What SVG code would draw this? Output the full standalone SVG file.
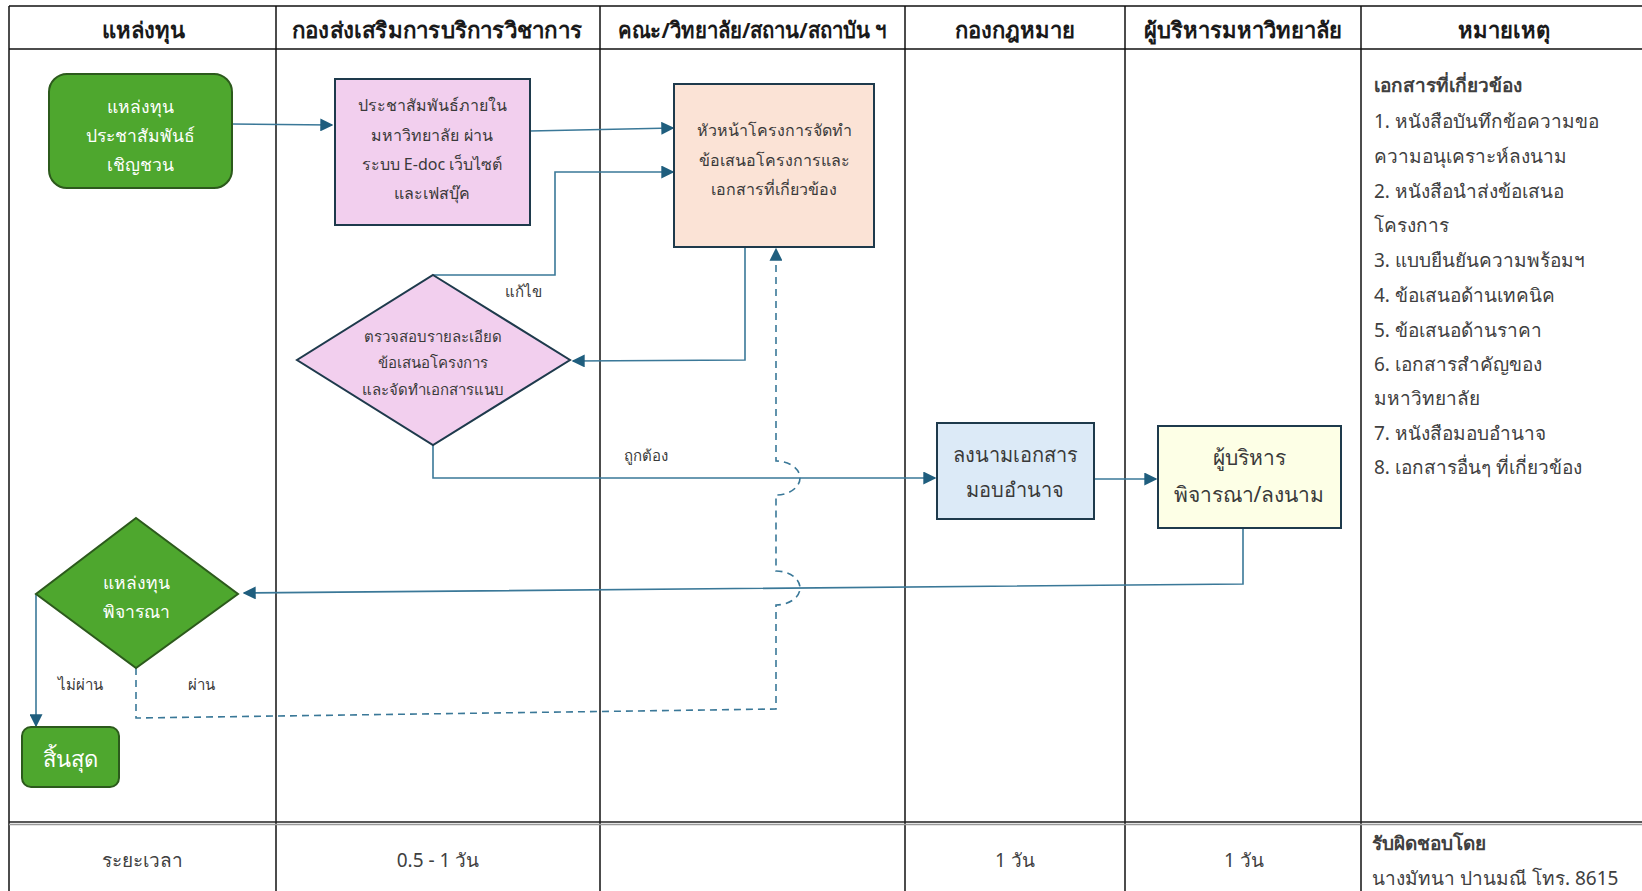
<svg xmlns="http://www.w3.org/2000/svg" width="1642" height="891" viewBox="0 0 1642 891">
<style>
text{font-family:"Noto Sans","DejaVu Sans",sans-serif;}
.hd{font-size:22px;font-weight:bold;fill:#1a1a1a;text-anchor:middle;}
.tb{stroke:#111;stroke-width:1.5;fill:none;}
.box{stroke:#1E3A4C;stroke-width:2;}
.gbox{fill:#4EA72E;stroke:#2C5A1C;stroke-width:2;}
.wt{fill:#FFFFFF;text-anchor:middle;font-size:17.5px;}
.dt{fill:#3a3a3a;text-anchor:middle;font-size:16px;}
.big{font-size:20px;}
.big2{font-size:21px;}
.lbl{fill:#3a3a3a;text-anchor:middle;font-size:15px;}
.note{fill:#404040;font-size:19px;}
.ft{fill:#404040;font-size:19px;}
.cn{stroke:#3A7898;stroke-width:1.6;fill:none;}
.dash{stroke:#3A7898;stroke-width:1.6;fill:none;stroke-dasharray:7 5;}
</style>
<defs>
<marker id="ah" viewBox="0 0 10 10" refX="9" refY="5" markerWidth="13" markerHeight="13" markerUnits="userSpaceOnUse" orient="auto">
<path d="M0,0 L10,5 L0,10 z" fill="#1F5E7E"/>
</marker>
</defs>
<rect width="1642" height="891" fill="#ffffff"/>
<g id="table">
<line class="tb" x1="9" y1="6" x2="1642" y2="6"/>
<line class="tb" x1="9" y1="49" x2="1642" y2="49"/>
<line class="tb" x1="9" y1="6" x2="9" y2="891"/>
<line class="tb" x1="276" y1="6" x2="276" y2="891"/>
<line class="tb" x1="600" y1="6" x2="600" y2="891"/>
<line class="tb" x1="905" y1="6" x2="905" y2="891"/>
<line class="tb" x1="1125" y1="6" x2="1125" y2="891"/>
<line class="tb" x1="1361" y1="6" x2="1361" y2="891"/>
<line x1="9" y1="822" x2="1642" y2="822" stroke="#222" stroke-width="1.5"/>
<line x1="9" y1="824.5" x2="1642" y2="824.5" stroke="#999" stroke-width="1.5"/>
<text class="hd" x="143" y="38">แหล่งทุน</text>
<text class="hd" x="437" y="38" textLength="290" lengthAdjust="spacingAndGlyphs">กองส่งเสริมการบริการวิชาการ</text>
<text class="hd" x="752" y="38" textLength="268" lengthAdjust="spacingAndGlyphs">คณะ/วิทยาลัย/สถาน/สถาบัน ฯ</text>
<text class="hd" x="1015" y="38">กองกฎหมาย</text>
<text class="hd" x="1243" y="38">ผู้บริหารมหาวิทยาลัย</text>
<text class="hd" x="1504" y="38">หมายเหตุ</text>
</g>
<g id="connectors">
<line class="cn" x1="231" y1="124" x2="332" y2="125" marker-end="url(#ah)"/>
<line class="cn" x1="530" y1="131" x2="673" y2="128" marker-end="url(#ah)"/>
<polyline class="cn" points="433,275 555,275 555,172 673,172" marker-end="url(#ah)"/>
<polyline class="cn" points="745,247 745,360 573,361" marker-end="url(#ah)"/>
<polyline class="cn" points="433,445 433,478 935,478" marker-end="url(#ah)"/>
<line class="cn" x1="1094" y1="479" x2="1156" y2="479" marker-end="url(#ah)"/>
<polyline class="cn" points="1243,528 1243,584 244,593" marker-end="url(#ah)"/>
<polyline class="cn" points="36,594 36,726" marker-end="url(#ah)"/>
<path class="dash" d="M136,668 L136,718 L776,709 L776,605 A24 17 0 0 0 776,571 L776,495 A24 17 0 0 0 776,461 L776,249" marker-end="url(#ah)"/>
<text class="lbl" x="523" y="297">แก้ไข</text>
<text class="lbl" x="646" y="461">ถูกต้อง</text>
<text class="lbl" x="80" y="690">ไม่ผ่าน</text>
<text class="lbl" x="201" y="690">ผ่าน</text>
</g>
<g id="n_source">
<rect class="gbox" x="49" y="74" width="183" height="114" rx="18"/>
<text class="wt" x="140" y="113">แหล่งทุน</text>
<text class="wt" x="140" y="142">ประชาสัมพันธ์</text>
<text class="wt" x="140" y="171">เชิญชวน</text>
</g>
<g id="n_pr">
<rect class="box" x="335" y="79" width="195" height="146" fill="#F2CFEE"/>
<text class="dt" x="432" y="111">ประชาสัมพันธ์ภายใน</text>
<text class="dt" x="432" y="141">มหาวิทยาลัย ผ่าน</text>
<text class="dt" x="432" y="170">ระบบ E-doc เว็บไซต์</text>
<text class="dt" x="432" y="199">และเฟสบุ๊ค</text>
</g>
<g id="n_head">
<rect class="box" x="674" y="84" width="200" height="163" fill="#FBE3D6"/>
<text class="dt" x="774" y="136">หัวหน้าโครงการจัดทำ</text>
<text class="dt" x="774" y="166">ข้อเสนอโครงการและ</text>
<text class="dt" x="774" y="195">เอกสารที่เกี่ยวข้อง</text>
</g>
<g id="n_check">
<polygon class="box" points="433,275 570,360 433,445 297,360" fill="#F2CFEE"/>
<text class="lbl" x="433" y="342">ตรวจสอบรายละเอียด</text>
<text class="lbl" x="433" y="368">ข้อเสนอโครงการ</text>
<text class="lbl" x="433" y="395">และจัดทำเอกสารแนบ</text>
</g>
<g id="n_sign">
<rect class="box" x="937" y="423" width="157" height="96" fill="#DCEAF7"/>
<text class="dt big" x="1015" y="462">ลงนามเอกสาร</text>
<text class="dt big" x="1015" y="497">มอบอำนาจ</text>
</g>
<g id="n_exec">
<rect class="box" x="1158" y="426" width="183" height="102" fill="#FDFFE6"/>
<text class="dt big2" x="1249" y="465">ผู้บริหาร</text>
<text class="dt big2" x="1249" y="502">พิจารณา/ลงนาม</text>
</g>
<g id="n_consider">
<polygon class="gbox" points="136,518 238,594 136,668 36,594"/>
<text class="wt" x="136" y="589">แหล่งทุน</text>
<text class="wt" x="136" y="618">พิจารณา</text>
</g>
<g id="n_end">
<rect class="gbox" x="22" y="727" width="97" height="60" rx="9"/>
<text class="wt" x="70" y="767" style="font-size:22px">สิ้นสุด</text>
</g>
<g id="notes">
<text class="note" x="1374" y="92" font-weight="bold">เอกสารที่เกี่ยวข้อง</text>
<text class="note" x="1374" y="128">1. หนังสือบันทึกข้อความขอ</text>
<text class="note" x="1374" y="163">ความอนุเคราะห์ลงนาม</text>
<text class="note" x="1374" y="198">2. หนังสือนำส่งข้อเสนอ</text>
<text class="note" x="1374" y="232">โครงการ</text>
<text class="note" x="1374" y="267">3. แบบยืนยันความพร้อมฯ</text>
<text class="note" x="1374" y="302">4. ข้อเสนอด้านเทคนิค</text>
<text class="note" x="1374" y="337">5. ข้อเสนอด้านราคา</text>
<text class="note" x="1374" y="371">6. เอกสารสำคัญของ</text>
<text class="note" x="1374" y="405">มหาวิทยาลัย</text>
<text class="note" x="1374" y="440">7. หนังสือมอบอำนาจ</text>
<text class="note" x="1374" y="474">8. เอกสารอื่นๆ ที่เกี่ยวข้อง</text>
</g>
<g id="footer">
<text class="ft" x="142" y="867" text-anchor="middle">ระยะเวลา</text>
<text class="ft" x="438" y="867" text-anchor="middle">0.5 - 1 วัน</text>
<text class="ft" x="1015" y="867" text-anchor="middle">1 วัน</text>
<text class="ft" x="1244" y="867" text-anchor="middle">1 วัน</text>
<text class="ft" x="1372" y="850" font-weight="bold">รับผิดชอบโดย</text>
<text class="ft" x="1372" y="885">นางมัทนา ปานมณี โทร. 8615</text>
</g>
</svg>
